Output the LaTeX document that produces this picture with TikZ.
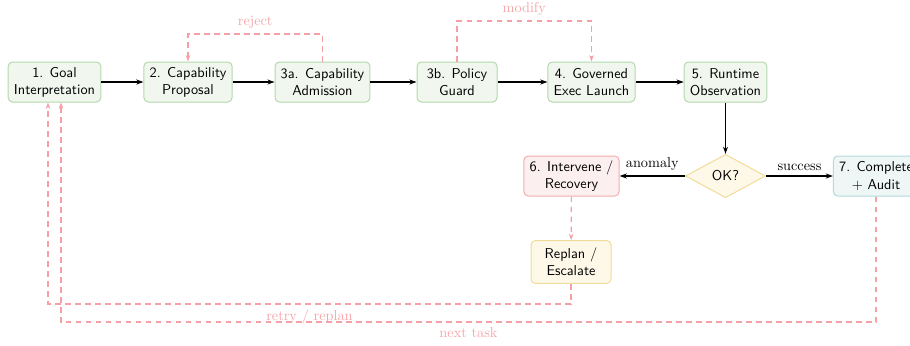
\documentclass[tikz,border=0pt]{standalone}
\usetikzlibrary{shapes.geometric,arrows.meta}
\definecolor{gfill}{HTML}{F1F7EF}
\definecolor{gdraw}{HTML}{B3D9AC}
\definecolor{rfill}{HTML}{FCEFEF}
\definecolor{rdraw}{HTML}{F4ACAE}
\definecolor{yfill}{HTML}{FDF8E8}
\definecolor{ydraw}{HTML}{F2DC9A}
\definecolor{cfill}{HTML}{EEF6F6}
\definecolor{cdraw}{HTML}{B3DADA}
\definecolor{dashc}{HTML}{F4A0A6}
\definecolor{labc}{HTML}{F4A6A9}
\tikzset{
  box/.style={draw=gdraw, fill=gfill, rounded corners=3pt, line width=0.7pt, align=center,
    font=\sffamily, minimum height=28pt, minimum width=56pt, inner xsep=4pt, inner ysep=2pt},
  rbox/.style={box, draw=rdraw, fill=rfill},
  ybox/.style={box, draw=ydraw, fill=yfill},
  cbox/.style={box, draw=cdraw, fill=cfill},
  flow/.style={-{Stealth[length=5pt,width=3.5pt]}, line width=0.8pt, black},
  back/.style={-{Stealth[length=4.5pt,width=3.2pt]}, dashc, line width=0.8pt, dash pattern=on 4pt off 3pt},
  lab/.style={text=labc, font=\normalsize},
}
\begin{document}
\begin{tikzpicture}[x=0.7pt,y=-0.7pt]
\useasboundingbox (0,0) rectangle (910,345);
\node[box] (n1) at (54.5,82) {1. Goal\\Interpretation};
\node[box] (n2) at (188,82) {2. Capability\\Proposal};
\node[box] (n3a) at (322.5,82) {3a. Capability\\Admission};
\node[box] (n3b) at (457,82) {3b. Policy\\Guard};
\node[box] (n4) at (591.5,82) {4. Governed\\Exec Launch};
\node[box] (n5) at (725.5,82) {5. Runtime\\Observation};
\node[diamond, draw=ydraw, fill=yfill, line width=0.7pt, font=\sffamily, minimum width=56pt, minimum height=27pt, inner sep=1pt] (ok) at (725.5,176) {OK?};
\node[rbox] (n6) at (571.5,176) {6. Intervene /\\Recovery};
\node[cbox] (n7) at (876,176) {7. Complete\\+ Audit};
\node[ybox, minimum height=30pt] (rp) at (571,262) {Replan /\\Escalate};

\draw[flow] (n1) -- (n2);
\draw[flow] (n2) -- (n3a);
\draw[flow] (n3a) -- (n3b);
\draw[flow] (n3b) -- (n4);
\draw[flow] (n4) -- (n5);
\draw[flow] (n5) -- (ok);
\draw[flow] (ok) -- node[above, pos=0.5, text=black] {anomaly} (n6);
\draw[flow] (ok) -- node[above, pos=0.5, text=black] {success} (n7);

\coordinate (rjA) at (322.5,34);
\coordinate (rjB) at (188,34);
\draw[back] (n3a.north) -- (rjA) -- node[lab, above, pos=0.5] {reject} (rjB) -- (n2.north);

\coordinate (mdA) at (457,21);
\coordinate (mdB) at (591.5,21);
\draw[back] (n3b.north) -- (mdA) -- node[lab, above, pos=0.5] {modify} (mdB) -- (n4.north);

\draw[back] (n6) -- (rp);

\coordinate (rtA) at (571,304);
\coordinate (rtB) at (48,304);
\draw[back] (rp.south) -- (rtA) -- node[lab, below, pos=0.5] {retry / replan} (rtB) -- (n1.south -| rtB);

\coordinate (ntA) at (876,322);
\coordinate (ntB) at (61,322);
\draw[back] (n7.south) -- (ntA) -- node[lab, below, pos=0.5] {next task} (ntB) -- (n1.south -| ntB);
\end{tikzpicture}
\end{document}
